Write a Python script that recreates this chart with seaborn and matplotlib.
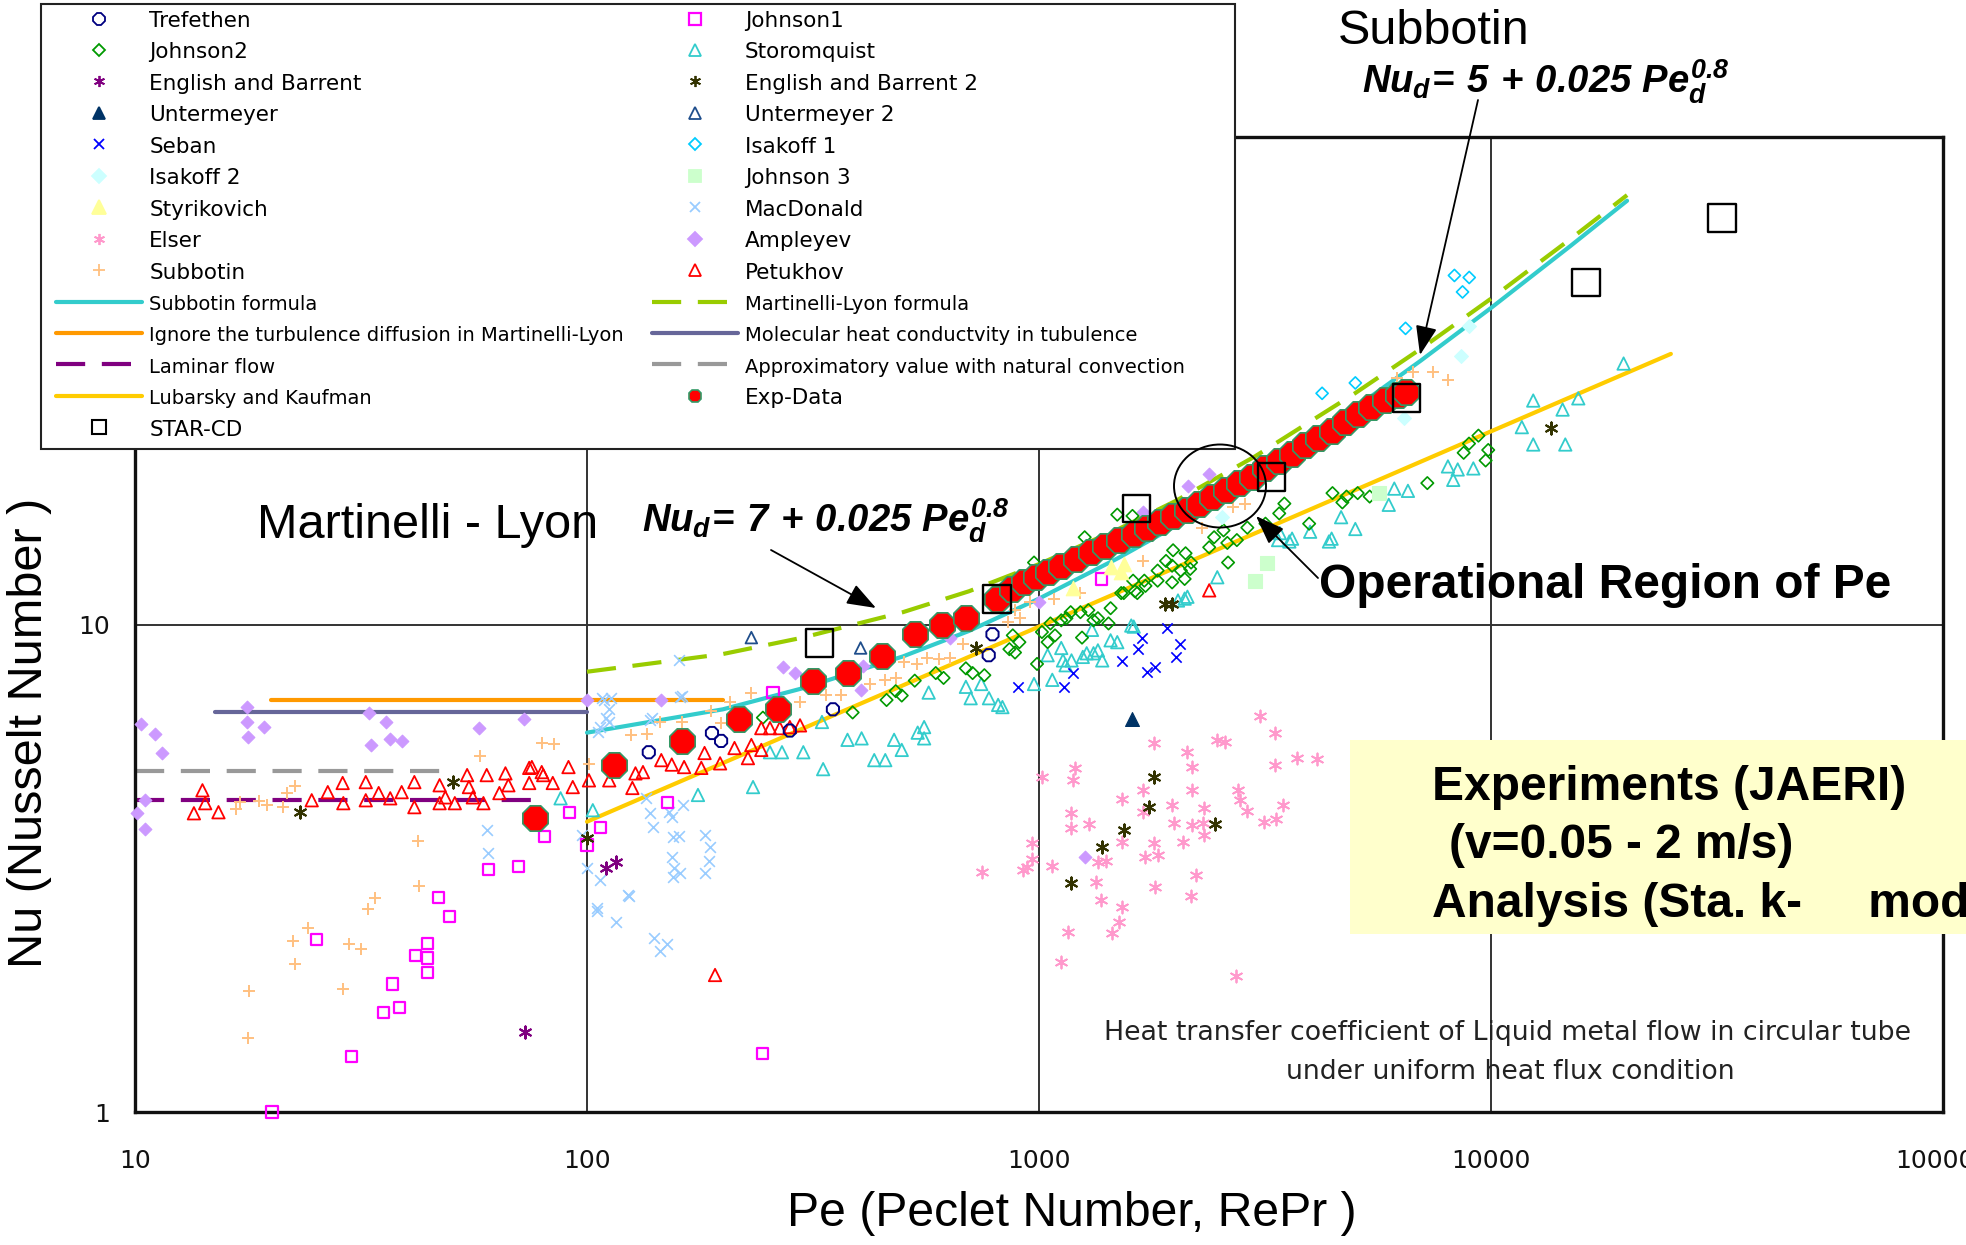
import numpy as np
import matplotlib
matplotlib.use("Agg")
import matplotlib.pyplot as plt
import seaborn as sns
from matplotlib.lines import Line2D
from matplotlib.patches import Rectangle, Ellipse, FancyArrowPatch
from matplotlib.ticker import FixedLocator, FuncFormatter, NullFormatter, LogLocator

# ---------------- data: Peclet number (Pe) and Nusselt number (Nu) ----------------
trefethen_pe = [137, 189, 198, 281, 350, 774, 789]
trefethen_nu = [5.47, 5.99, 5.77, 6.06, 6.70, 8.65, 9.55]

johnson1_pe = [20.1, 25.2, 30.1, 35.5, 37.2, 38.4, 41.8, 44.4, 44.4, 44.4, 47.0, 49.6,
               60.5, 70.6, 80.5, 91.4, 100, 107, 151, 245, 258, 1377]
johnson1_nu = [1.0, 2.26, 1.30, 1.60, 1.83, 1.64, 2.09, 2.22, 2.07, 1.93, 2.76, 2.52,
               3.15, 3.19, 3.68, 4.12, 3.53, 3.84, 4.32, 1.32, 7.26, 12.4]

johnson2_pe = [245, 387, 460, 482, 497, 531, 591, 615, 689, 713,
               757, 860, 875, 885, 905, 990, 1015, 1045, 1060, 1085,
               1120, 1150, 1175, 1235, 1245, 1286, 1320, 1350, 1425, 1440,
               1490, 1520, 1540, 1610, 1615, 1630, 1650, 1710, 1720, 1830,
               1830, 1910, 1970, 1970, 1980, 2060, 2100, 2110, 2160, 2170,
               2380, 2440, 2560, 2610, 2620, 2740, 2890, 3170, 3400, 3490,
               3960, 4460, 4690, 4790, 5070, 5390, 7230, 8700, 8940, 9380,
               9730, 9860, 975, 1262]
johnson2_nu = [6.44, 6.60, 7.00, 7.30, 7.15, 7.67, 7.95, 7.77, 8.13, 7.95,
               7.87, 8.90, 9.50, 8.76, 9.20, 8.30, 9.65, 9.20, 10.05, 9.50,
               10.2, 10.3, 10.6, 10.6, 9.40, 10.7, 10.2, 10.3, 10.05, 10.8,
               16.8, 11.6, 11.6, 16.7, 12.3, 11.7, 11.6, 12.3, 12.0, 12.9,
               12.3, 13.5, 12.2, 13.2, 14.2, 12.9, 12.4, 14.0, 13.0, 13.4,
               14.4, 15.1, 15.6, 14.7, 13.4, 14.9, 15.8, 16.1, 16.9, 17.7,
               16.1, 18.6, 17.8, 18.3, 18.6, 18.3, 19.5, 22.5, 23.5, 24.4,
               21.7, 22.8, 13.4, 15.1]

storomquist_pe = [87.4, 103, 176, 233, 254, 270, 301, 333, 331, 377,
                  405, 432, 457, 478, 497, 539, 557, 557, 570, 689,
                  706, 745, 775, 812, 830, 975, 1045, 1070, 1120, 1130,
                  1145, 1180, 1250, 1275, 1310, 1320, 1350, 1380, 1440, 1490,
                  1600, 1620, 2030, 2100, 2130, 2480, 3380, 3410, 3580, 3630,
                  3980, 4380, 4440, 4660, 5010, 5940, 6110, 6550, 8030, 8250,
                  8440, 9140, 11700, 12400, 12400, 14400, 14600, 15600, 19650]
storomquist_nu = [4.40, 4.16, 4.47, 4.64, 5.47, 5.47, 5.47, 5.05, 6.31, 5.80,
                  5.84, 5.27, 5.27, 5.80, 5.53, 6.00, 6.16, 5.84, 7.25, 7.45,
                  7.06, 7.55, 7.06, 6.84, 6.77, 7.55, 8.65, 7.70, 8.95, 8.44,
                  8.25, 8.44, 8.58, 8.73, 9.75, 8.73, 8.85, 8.44, 9.28, 9.20,
                  9.95, 9.90, 11.2, 11.3, 11.4, 12.5, 14.9, 15.4, 14.8, 15.0,
                  15.5, 14.8, 15.0, 16.6, 15.7, 17.6, 19.0, 18.8, 21.1, 19.8,
                  20.8, 20.9, 25.4, 28.8, 23.4, 27.6, 23.4, 29.1, 34.3]

english_pe = [72.8, 110, 116]
english_nu = [1.46, 3.17, 3.26]

english2_pe = [23.2, 50.5, 100, 724, 1180, 1380, 1540, 1750, 1795, 1900, 1970, 2450, 13600]
english2_nu = [4.12, 4.75, 3.65, 8.95, 2.95, 3.50, 3.79, 4.22, 4.86, 11.0, 11.0, 3.90, 25.3]

untermeyer_pe = [1610]
untermeyer_nu = [6.4]

untermeyer2_pe = [231, 403]
untermeyer2_nu = [9.4, 8.95]

seban_pe = [1920, 1690, 2050, 1660, 2010, 1530, 1810, 1730, 1190, 900, 1135]
seban_nu = [9.85, 9.40, 9.10, 8.90, 8.58, 8.40, 8.20, 7.98, 7.95, 7.45, 7.45]

isakoff1_pe = [4230, 5010, 6470, 8300, 8950, 8650]
isakoff1_nu = [29.8, 31.3, 40.5, 52.0, 51.5, 48.1]

isakoff2_pe = [2540, 6420, 8580, 8950]
isakoff2_nu = [16.6, 26.5, 35.5, 41.0]

johnson3_pe = [3200, 3000, 5650]
johnson3_nu = [13.4, 12.3, 18.6]

styrikovich_pe = [1190, 1440, 1520, 1540]
styrikovich_nu = [11.9, 13.1, 12.8, 13.3]

macdonald_pe = [160, 162, 108, 113, 112, 112, 138, 107, 109, 110,
                106, 139, 161, 135, 163, 138, 154, 152, 140, 160,
                155, 182, 187, 154, 186, 182, 156, 155, 161, 97.5,
                100, 107, 105, 123, 124, 105, 116, 141, 150, 145, 60, 60.5]
macdonald_nu = [8.44, 7.15, 7.06, 7.06, 6.70, 6.31, 6.36, 6.16, 7.00, 6.42,
                6.02, 6.42, 7.10, 4.40, 4.26, 4.10, 4.02, 4.12, 3.84, 3.68,
                3.66, 3.70, 3.50, 3.34, 3.28, 3.09, 3.17, 3.03, 3.09, 3.70,
                3.17, 2.99, 2.62, 2.79, 2.77, 2.58, 2.45, 2.27, 2.21, 2.14, 3.78, 3.40]

elser_pe = [3077, 3320, 1795, 2120, 2480, 2580, 2180, 3320, 3720, 4130,
            1203, 1190, 1015, 1700, 2180, 2750, 2780, 1530, 1970, 2320,
            2890, 3460, 1180, 1700, 1290, 1180, 1990, 2180, 2300, 3140,
            3350, 965, 1530, 1800, 2080, 2320, 965, 920, 1070, 1350,
            1410, 1720, 1830, 1340, 1810, 2230, 2170, 1370, 1530, 1500,
            1450, 1160, 1120, 2730, 749, 940]
elser_nu = [6.49, 5.98, 5.71, 5.47, 5.80, 5.73, 5.09, 5.15, 5.32, 5.29,
            5.08, 4.79, 4.86, 4.57, 4.57, 4.57, 4.36, 4.38, 4.26, 4.20,
            4.14, 4.26, 4.10, 4.12, 3.90, 3.82, 3.92, 3.88, 3.92, 3.94,
            3.99, 3.56, 3.58, 3.56, 3.58, 3.70, 3.30, 3.13, 3.19, 3.25,
            3.28, 3.34, 3.36, 2.96, 2.89, 3.06, 2.77, 2.72, 2.63, 2.45,
            2.33, 2.34, 2.03, 1.90, 3.10, 3.18]

ampleyev_pe = [10.3, 11.1, 11.5, 10.5, 10.1, 10.5, 17.7, 17.7, 19.3, 17.8,
               33.0, 35.9, 33.2, 36.7, 38.9, 57.8, 72.7, 100, 146, 271,
               288, 403, 408, 634, 1000, 1262, 1700, 2140, 2380]
ampleyev_nu = [6.25, 5.96, 5.45, 4.36, 4.10, 3.81, 6.77, 6.31, 6.16, 5.87,
               6.58, 6.31, 5.66, 5.82, 5.77, 6.13, 6.39, 7.00, 7.00, 8.18,
               7.95, 7.33, 8.21, 9.37, 11.1, 3.33, 17.0, 19.2, 20.4]

subbotin_pe = [17.8, 17.9, 22.6, 22.4, 24.2, 28.8, 29.7, 31.7, 32.7, 33.9,
               42.4, 42.3, 16.7, 17.1, 18.8, 19.6, 21.2, 21.7, 22.6, 58,
               79.4, 84.7, 101, 125, 136, 145, 162, 188, 198, 207,
               231, 296, 338, 364, 422, 456, 482, 502, 536, 564,
               602, 634, 678, 853, 883, 906, 957, 1081, 1235, 1698,
               2290, 2683, 2850, 6180, 6720, 7450, 8040]
subbotin_nu = [1.42, 1.77, 2.01, 2.24, 2.38, 1.79, 2.21, 2.16, 2.61, 2.75,
               2.91, 3.59, 4.18, 4.32, 4.34, 4.26, 4.22, 4.51, 4.66, 5.37,
               5.71, 5.69, 5.17, 5.93, 5.96, 6.30, 6.30, 6.64, 6.28, 6.93,
               7.23, 6.93, 7.16, 7.16, 7.55, 7.70, 7.78, 8.37, 8.29, 8.53,
               8.50, 8.55, 9.11, 10.1, 10.7, 10.3, 11.1, 11.3, 11.6, 13.5,
               15.8, 17.4, 17.7, 32.1, 32.9, 32.9, 31.7]

petukhov_pe = [13.5, 14.1, 14.3, 15.3, 24.6, 26.7, 28.8, 28.9, 32.4, 32.4,
               34.6, 36.7, 38.9, 41.5, 41.5, 47.2, 47.2, 48.6, 51, 54.3,
               54.8, 55.9, 59, 60, 64, 66, 67, 74.5, 74.5, 75.5,
               79.4, 80, 84, 91, 93, 101, 112, 126, 128, 133,
               146, 154, 164, 179, 182, 192, 197, 212, 227, 231,
               243, 243, 254, 267, 281, 296, 2380]
petukhov_nu = [4.10, 4.57, 4.30, 4.12, 4.36, 4.53, 4.73, 4.30, 4.75, 4.36,
               4.51, 4.40, 4.53, 4.75, 4.22, 4.68, 4.30, 4.42, 4.30, 4.91,
               4.64, 4.42, 4.30, 4.91, 4.51, 4.95, 4.68, 5.08, 4.73, 5.10,
               4.98, 4.91, 4.73, 5.10, 4.64, 4.79, 4.79, 4.62, 4.95, 4.98,
               5.27, 5.16, 5.10, 5.08, 5.45, 1.91, 5.19, 5.58, 5.32, 5.66,
               5.53, 6.13, 6.13, 6.13, 6.16, 6.21, 11.75]

exp_pe = [76.7, 115, 162, 217, 264, 317, 377, 449, 531, 609,
          690, 806, 870, 925, 985, 1045, 1120, 1205, 1300, 1400,
          1500, 1620, 1730, 1850, 1980, 2120, 2260, 2420, 2590, 2770,
          2960, 3170, 3390, 3630, 3880, 4150, 4440, 4750, 5080, 5440,
          5820, 6230, 6500]
exp_nu = [4.0, 5.15, 5.77, 6.4, 6.7, 7.65, 7.95, 8.6, 9.55, 10.0,
          10.3, 11.3, 11.8, 12.2, 12.5, 12.8, 13.2, 13.6, 14.1, 14.5,
          14.9, 15.3, 15.8, 16.2, 16.7, 17.2, 17.7, 18.3, 18.9, 19.5,
          20.1, 20.9, 21.6, 22.4, 23.3, 24.1, 25.0, 26.0, 27.0, 27.9,
          28.9, 29.5, 30.0]

starcd_pe = [327, 807, 1644, 3270, 6500, 16250, 32500]
starcd_nu = [9.15, 11.3, 17.3, 20.1, 29.1, 50.3, 68.1]

# correlation curves
formula_pe = [100, 150, 200, 300, 500, 700, 1000, 1500, 2000, 3000, 5000, 7000, 10000, 15000, 20000]
subbotin_formula_nu = [6.0, 6.4, 6.7, 7.4, 8.6, 9.7, 11.3, 13.7, 15.9, 20.1, 27.8, 34.8, 44.6, 59.8, 74.0]
martinelli_formula_nu = [8.0, 8.4, 8.7, 9.4, 10.6, 11.7, 13.3, 15.7, 17.9, 22.1, 29.8, 36.8, 46.6, 61.8, 76.0]
lubarsky_pe = [100, 1000, 10000, 25000]
lubarsky_nu = [3.94, 9.9, 24.9, 35.9]
ignore_turb_pe = [20, 200]
ignore_turb_nu = [7.0, 7.0]
molecular_pe = [15, 100]
molecular_nu = [6.6, 6.6]
laminar_pe = [10, 80]
laminar_nu = [4.36, 4.36]
natconv_pe = [10, 50]
natconv_nu = [5.0, 5.0]

x_ticks = [10, 100, 1000, 10000, 100000]
y_ticks = [1, 10, 100]

# ---------------- style ----------------
sns.set_style("white")
plt.rcParams['font.family'] = ['DejaVu Sans']
plt.rcParams['text.color'] = 'black'
plt.rcParams['xtick.color'] = 'black'
plt.rcParams['ytick.color'] = 'black'
plt.rcParams['mathtext.fontset'] = 'custom'
plt.rcParams['mathtext.rm'] = 'Liberation Sans:italic:bold'
plt.rcParams['mathtext.it'] = 'Liberation Sans:italic:bold'
plt.rcParams['mathtext.bf'] = 'Liberation Sans:italic:bold'

W, H = 1966, 1245
fig = plt.figure(figsize=(W / 100, H / 100), dpi=100)
fig.patch.set_facecolor('white')


def fx(px):
    return px / W


def fy(py):
    return 1 - py / H


ax = fig.add_axes([fx(135), fy(1112), (1943 - 135) / W, (1112 - 137) / H])
ax.set_xscale('log')
ax.set_yscale('log')
ax.set_xlim(10, 100000)
ax.set_ylim(1, 100)
ax.set_axisbelow(True)

# colours
C_TREF = '#000080'
C_J1 = '#FF00FF'
C_J2 = '#009900'
C_EB = '#800080'
C_STRO = '#33CCCC'
C_EB2 = '#333300'
C_UNT = '#003366'
C_UNT2 = '#1F4E8C'
C_SEBAN = '#0000FF'
C_ISA1 = '#00CCFF'
C_ISA2 = '#CCFFFF'
C_J3 = '#CCFFCC'
C_STYR = '#FFFF99'
C_MAC = '#99CCFF'
C_ELSER = '#FF99CC'
C_AMP = '#CC99FF'
C_SUB = '#FFC080'
C_PET = '#FF0000'
STAR = (6, 2, 0)


def points(pe, nu, marker, s, color, hollow=False, lw=1.2, edge=None, z=3):
    kw = dict(marker=marker, s=s, linewidth=lw, zorder=z, clip_on=False, legend=False, color=color)
    if hollow:
        kw.update(facecolor='none', edgecolor=color)
    elif edge is not None:
        kw.update(edgecolor=edge)
    elif marker not in ('x', '+', STAR):
        kw.update(edgecolor=color)
    sns.scatterplot(x=pe, y=nu, ax=ax, **kw)


def curve(pe, nu, color, ls='-', lw=3.0, z=2.5):
    sns.lineplot(x=pe, y=nu, ax=ax, color=color, linewidth=lw, linestyle=ls,
                 estimator=None, sort=False, legend=False, zorder=z)


DASH = (0, (7, 4))

# literature data
points(ampleyev_pe, ampleyev_nu, 'D', 42, C_AMP, lw=0.8)
points(macdonald_pe, macdonald_nu, 'x', 60, C_MAC, lw=1.2)
points(elser_pe, elser_nu, STAR, 75, C_ELSER, lw=1.3)
points(subbotin_pe, subbotin_nu, '+', 70, C_SUB, lw=1.4)
points(storomquist_pe, storomquist_nu, '^', 80, C_STRO, hollow=True, lw=1.3)
points(johnson2_pe, johnson2_nu, 'D', 40, C_J2, hollow=True, lw=1.2)
points(petukhov_pe, petukhov_nu, '^', 80, C_PET, hollow=True, lw=1.3)
points(johnson1_pe, johnson1_nu, 's', 64, C_J1, hollow=True, lw=1.6)
points(trefethen_pe, trefethen_nu, '8', 90, C_TREF, hollow=True, lw=1.4)
points(seban_pe, seban_nu, 'x', 55, C_SEBAN, lw=1.2)
points(isakoff1_pe, isakoff1_nu, 'D', 38, C_ISA1, hollow=True, lw=1.2)
points(isakoff2_pe, isakoff2_nu, 'D', 50, C_ISA2, lw=0.8)
points(johnson3_pe, johnson3_nu, 's', 90, C_J3, lw=0.8)
points(styrikovich_pe, styrikovich_nu, '^', 110, C_STYR, lw=0.8)
points(untermeyer_pe, untermeyer_nu, '^', 100, C_UNT, lw=0.8)
points(untermeyer2_pe, untermeyer2_nu, '^', 70, C_UNT2, hollow=True, lw=1.3)
points(english_pe, english_nu, STAR, 75, C_EB, lw=1.5)
points(english2_pe, english2_nu, STAR, 75, C_EB2, lw=1.5)

# correlations
curve(ignore_turb_pe, ignore_turb_nu, '#FF9900')
curve(molecular_pe, molecular_nu, '#666699')
curve(laminar_pe, laminar_nu, '#800080', ls=DASH)
curve(natconv_pe, natconv_nu, '#999999', ls=DASH)
curve(lubarsky_pe, lubarsky_nu, '#FFCC00')
curve(formula_pe, subbotin_formula_nu, '#33CCCC')
curve(formula_pe, martinelli_formula_nu, '#99CC00', ls=DASH)

# experiments and simulation
points(exp_pe, exp_nu, '8', 390, '#FF0000', edge='#339966', lw=1.2, z=4)
points(starcd_pe, starcd_nu, 's', 400, 'black', hollow=True, lw=1.7, z=5)

# ---------------- axes cosmetics ----------------
for sp in ax.spines.values():
    sp.set_visible(True)
    sp.set_color('#111111')
    sp.set_linewidth(2.4)
ax.grid(True, which='major', color='#333333', linewidth=1.4)
ax.grid(False, which='minor')
ax.xaxis.set_major_locator(FixedLocator(x_ticks))
ax.yaxis.set_major_locator(FixedLocator(y_ticks))
ax.xaxis.set_minor_locator(LogLocator(base=10, subs=np.arange(2, 10), numticks=20))
ax.yaxis.set_minor_locator(LogLocator(base=10, subs=np.arange(2, 10), numticks=20))
ax.xaxis.set_major_formatter(FuncFormatter(lambda v, p: f"{int(round(v))}"))
ax.yaxis.set_major_formatter(FuncFormatter(lambda v, p: f"{int(round(v))}"))
ax.xaxis.set_minor_formatter(NullFormatter())
ax.yaxis.set_minor_formatter(NullFormatter())
ax.tick_params(which='major', direction='in', length=0, labelsize=18, colors='#111111')
ax.tick_params(axis='x', which='major', pad=27)
ax.tick_params(axis='y', which='major', pad=18)
ax.tick_params(which='minor', direction='in', length=5, width=1.3, color='#111111')
ax.tick_params(top=False, right=False, which='both')
ax.set_xlabel('')
ax.set_ylabel('')

ARIAL = 'Liberation Sans'
fig.text(fx(30), fy(733), 'Nu (Nusselt Number )', rotation=90, fontsize=35,
         family=ARIAL, ha='center', va='center')
fig.text(fx(1072), fy(1214), 'Pe (Peclet Number, RePr )', fontsize=34.7,
         family=ARIAL, ha='center', va='center')

# ---------------- legend ----------------
def mk(marker, color, size, hollow=False, edge=None, mew=1.3):
    if hollow:
        return Line2D([], [], ls='none', marker=marker, markersize=size,
                      markerfacecolor='none', markeredgecolor=color, markeredgewidth=mew)
    return Line2D([], [], ls='none', marker=marker, markersize=size, markerfacecolor=color,
                  markeredgecolor=edge if edge else color, markeredgewidth=mew)


def ln(color, ls='-'):
    return Line2D([], [], color=color, lw=3.0, ls=ls)


entries = [
    (mk('8', C_TREF, 9, hollow=True), 'Trefethen'),
    (mk('D', C_J2, 6.5, hollow=True), 'Johnson2'),
    (mk(STAR, C_EB, 8), 'English and Barrent'),
    (mk('^', C_UNT, 9), 'Untermeyer'),
    (mk('x', C_SEBAN, 7.5), 'Seban'),
    (mk('D', C_ISA2, 7), 'Isakoff 2'),
    (mk('^', C_STYR, 10), 'Styrikovich'),
    (mk(STAR, C_ELSER, 8), 'Elser'),
    (mk('+', C_SUB, 8.5), 'Subbotin'),
    (ln('#33CCCC'), 'Subbotin formula'),
    (ln('#FF9900'), 'Ignore the turbulence diffusion in Martinelli-Lyon'),
    (ln('#800080', DASH), 'Laminar flow'),
    (ln('#FFCC00'), 'Lubarsky and Kaufman'),
    (mk('s', 'black', 10, hollow=True, mew=1.5), 'STAR-CD'),
    (mk('s', C_J1, 8, hollow=True, mew=1.6), 'Johnson1'),
    (mk('^', C_STRO, 9, hollow=True), 'Storomquist'),
    (mk(STAR, C_EB2, 8), 'English and Barrent 2'),
    (mk('^', C_UNT2, 9, hollow=True), 'Untermeyer 2'),
    (mk('D', C_ISA1, 6.5, hollow=True), 'Isakoff 1'),
    (mk('s', C_J3, 8.5), 'Johnson 3'),
    (mk('x', C_MAC, 7.5), 'MacDonald'),
    (mk('D', C_AMP, 7), 'Ampleyev'),
    (mk('^', C_PET, 9, hollow=True), 'Petukhov'),
    (ln('#99CC00', DASH), 'Martinelli-Lyon formula'),
    (ln('#666699'), 'Molecular heat conductvity in tubulence'),
    (ln('#999999', DASH), 'Approximatory value with natural convection'),
    (mk('8', '#FF0000', 10, edge='#339966', mew=1.2), 'Exp-Data'),
]
line_labels = {'Subbotin formula', 'Ignore the turbulence diffusion in Martinelli-Lyon',
               'Laminar flow', 'Lubarsky and Kaufman', 'Martinelli-Lyon formula',
               'Molecular heat conductvity in tubulence',
               'Approximatory value with natural convection'}

fig.add_artist(Rectangle((fx(41), fy(449)), (1235 - 41) / W, (449 - 4) / H,
                         transform=fig.transFigure, facecolor='white',
                         edgecolor='#222222', linewidth=1.5, zorder=4))
leg = fig.legend([e[0] for e in entries], [e[1] for e in entries],
                 loc='upper left', bbox_to_anchor=(fx(56), fy(10)),
                 bbox_transform=fig.transFigure, ncol=2, frameon=False,
                 borderpad=0, borderaxespad=0, handlelength=4.0, handleheight=1.0,
                 handletextpad=0.33, columnspacing=1.3, labelspacing=0.485,
                 prop={'family': 'DejaVu Sans', 'size': 15.5})
for t in leg.get_texts():
    t.set_color('black')
    if t.get_text() in line_labels:
        t.set_fontsize(14)
leg.set_zorder(6)

# ---------------- annotations ----------------
formula_sub = r'$Nu_{d}\!=\,5\,+\,0.025\ Pe_{d}^{0.8}$'
formula_ml = r'$Nu_{d}\!=\,7\,+\,0.025\ Pe_{d}^{0.8}$'

fig.text(fx(1338), fy(44), 'Subbotin', fontsize=35, family=ARIAL, va='baseline', zorder=7)
fig.text(fx(1362), fy(93), formula_sub, fontsize=27.5, va='baseline', zorder=7)
fig.text(fx(257), fy(538), 'Martinelli - Lyon', fontsize=35, family=ARIAL, va='baseline', zorder=7)
fig.text(fx(642), fy(532), formula_ml, fontsize=27.5, va='baseline', zorder=7)
fig.text(fx(1319), fy(598), 'Operational Region of Pe', fontsize=34.5, family=ARIAL,
         weight='bold', va='baseline', zorder=7)

arrow_kw = dict(transform=fig.transFigure, arrowstyle='-|>,head_length=0.6,head_width=0.22',
                mutation_scale=30, lw=1.3, color='black', shrinkA=0, shrinkB=0, zorder=7)
fig.add_artist(FancyArrowPatch((fx(1478), fy(100)), (fx(1420), fy(355)), **arrow_kw))
fig.add_artist(FancyArrowPatch((fx(771), fy(550)), (fx(876), fy(608)), **arrow_kw))
fig.add_artist(FancyArrowPatch((fx(1318), fy(578)), (fx(1256), fy(516)), **arrow_kw))
fig.add_artist(Ellipse((fx(1220), fy(486)), 92 / W, 83 / H, transform=fig.transFigure,
                       fill=False, edgecolor='black', linewidth=1.4, zorder=7))

# yellow note box
fig.add_artist(Rectangle((fx(1350), fy(934)), 700 / W, (934 - 740) / H,
                         transform=fig.transFigure, facecolor='#FFFFCC',
                         edgecolor='none', zorder=5))
fig.text(fx(1432), fy(800), 'Experiments (JAERI)', fontsize=34.5, family=ARIAL,
         weight='bold', va='baseline', zorder=7)
fig.text(fx(1449), fy(858), '(v=0.05 - 2 m/s)', fontsize=34.5, family=ARIAL,
         weight='bold', va='baseline', zorder=7)
fig.text(fx(1432), fy(917), 'Analysis (Sta. k-     model)', fontsize=34.5, family=ARIAL,
         weight='bold', va='baseline', zorder=7)

fig.text(fx(1508), fy(1033), 'Heat transfer coefficient of Liquid metal flow in circular tube',
         fontsize=19.3, ha='center', va='center', color='#222222', zorder=7)
fig.text(fx(1510), fy(1072), 'under uniform heat flux condition',
         fontsize=19.3, ha='center', va='center', color='#222222', zorder=7)

fig.savefig('out.png', dpi=100)
